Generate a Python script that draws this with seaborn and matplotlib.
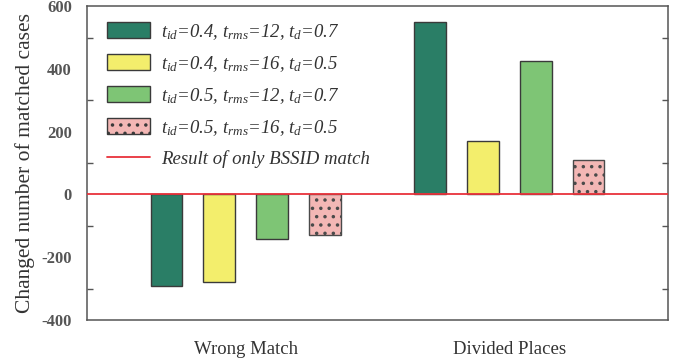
import matplotlib
matplotlib.use("Agg")
import matplotlib.pyplot as plt
from matplotlib.patches import Patch
from matplotlib.lines import Line2D
from matplotlib.ticker import MultipleLocator
import seaborn as sns
import pandas as pd

# Data
categories = ["Wrong Match", "Divided Places"]
settings = [
    r"$t_{id}$=0.4, $t_{rms}$=12, $t_{d}$=0.7",
    r"$t_{id}$=0.4, $t_{rms}$=16, $t_{d}$=0.5",
    r"$t_{id}$=0.5, $t_{rms}$=12, $t_{d}$=0.7",
    r"$t_{id}$=0.5, $t_{rms}$=16, $t_{d}$=0.5",
]
wrong_match = [-293, -278, -143, -130]
divided_places = [548, 170, 425, 110]
baseline_label = "Result of only BSSID match"

colors = ["#2a7e66", "#f3ee6c", "#7ec575", "#f3b7b5"]

rows = []
for s, w, d in zip(settings, wrong_match, divided_places):
    rows.append({"category": categories[0], "setting": s, "value": w})
    rows.append({"category": categories[1], "setting": s, "value": d})
df = pd.DataFrame(rows)

sns.set_theme(style="white")
plt.rcParams["font.family"] = ["Liberation Serif", "DejaVu Serif"]
plt.rcParams["mathtext.fontset"] = "custom"
plt.rcParams["mathtext.it"] = "Liberation Serif:italic"
plt.rcParams["mathtext.rm"] = "Liberation Serif:italic"
plt.rcParams["axes.unicode_minus"] = False
plt.rcParams["hatch.linewidth"] = 1.3
plt.rcParams["hatch.color"] = "#7a5a5a"

fig = plt.figure(figsize=(6.87, 3.62), dpi=100)
ax = fig.add_axes([0.127, 0.116, 0.845, 0.867])

sns.barplot(
    data=df, x="category", y="value", hue="setting",
    order=categories, hue_order=settings, palette=colors, saturation=1,
    width=0.8, gap=0.4, edgecolor="#3a3a3a", linewidth=1.0,
    legend=False, ax=ax,
)

# dotted fill for the fourth setting
for bar in ax.containers[3]:
    bar.set_hatch("..")
    bar.set_edgecolor("#4a4a4a")

ax.axhline(0, color="#e8323a", linewidth=1.3, zorder=5)

ax.set_xlim(-0.6, 1.6)
ax.set_ylim(-400, 600)
ax.yaxis.set_major_locator(MultipleLocator(200))
ax.yaxis.set_minor_locator(MultipleLocator(100))

for side in ["left", "right", "top", "bottom"]:
    ax.spines[side].set_color("#555555")
    ax.spines[side].set_linewidth(1.1)

ax.tick_params(axis="y", which="major", direction="out", length=6, width=1,
               color="#555555", labelsize=12, labelcolor="#555555", pad=5)
ax.tick_params(axis="y", which="minor", direction="in", length=4, width=1,
               color="#555555", left=True, right=True)
ax.tick_params(axis="x", which="major", direction="out", length=5, width=1,
               color="#555555", labelsize=13.5, labelcolor="#333333", pad=10)
for lbl in ax.get_yticklabels():
    lbl.set_fontweight("bold")

ax.set_xlabel("")
ax.set_ylabel("Changed number of matched cases", fontsize=15.5,
              color="#333333", labelpad=5)

handles = [Patch(facecolor=c, edgecolor="#3a3a3a", linewidth=1.0) for c in colors]
handles[3].set_hatch("..")
handles.append(Line2D([0], [0], color="#e8323a", linewidth=1.3))
labels = settings + [baseline_label]
ax.legend(handles, labels, loc="upper left", bbox_to_anchor=(0.034, 0.95),
          frameon=False, borderpad=0, borderaxespad=0,
          handlelength=2.3, handleheight=0.95, handletextpad=0.6,
          labelspacing=0.65, prop={"family": "Liberation Serif",
                                   "style": "italic", "size": 13.5},
          labelcolor="#333333")

fig.savefig("out.png", dpi=100)
